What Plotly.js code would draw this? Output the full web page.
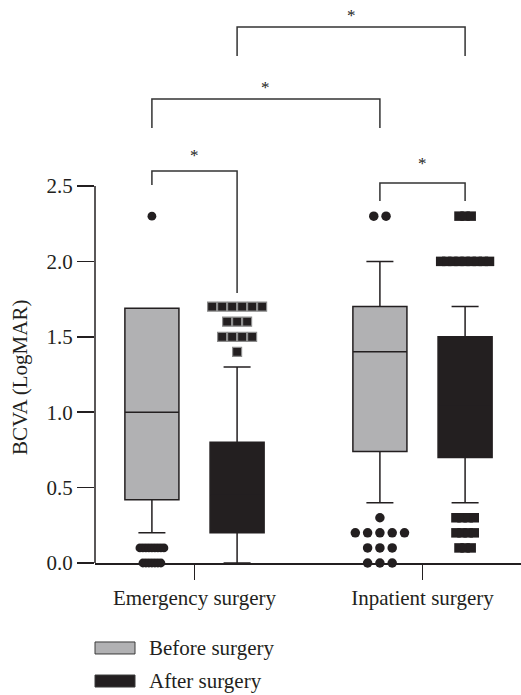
<!DOCTYPE html>
<html><head><meta charset="utf-8">
<script src="https://cdn.plot.ly/plotly-3.0.1.min.js"></script>
<style>html,body{margin:0;padding:0;background:#fff}#chart{width:521px;height:695px}</style>
</head><body><div id="chart"></div>
<script>
// ---------- data ----------
const categories = ['Emergency surgery', 'Inpatient surgery'];
const seriesNames = ['Before surgery', 'After surgery'];
const yAxisTitle = 'BCVA (LogMAR)';

const beforeQ1 = [0.42, 0.74];
const beforeMedian = [1.0, 1.4];
const beforeQ3 = [1.69, 1.70];
const beforeLowerFence = [0.2, 0.4];
const beforeUpperFence = [1.69, 2.0];

const afterQ1 = [0.2, 0.7];
const afterMedian = [0.45, 1.05];
const afterQ3 = [0.8, 1.5];
const afterLowerFence = [0.0, 0.4];
const afterUpperFence = [1.3, 1.7];

const emergencyBeforeOutliers = [2.3, 0.1, 0.1, 0.1, 0.1, 0.1, 0.1, 0.1, 0.1, 0.1, 0, 0, 0, 0, 0, 0, 0];
const emergencyAfterOutliers = [1.7, 1.7, 1.7, 1.7, 1.7, 1.7, 1.6, 1.6, 1.6, 1.5, 1.5, 1.5, 1.5, 1.4];
const inpatientBeforeOutliers = [2.3, 2.3, 0.3, 0.2, 0.2, 0.2, 0.2, 0.2, 0.1, 0.1, 0.1, 0, 0, 0];
const inpatientAfterOutliers = [2.3, 2.3, 2.3, 2.0, 2.0, 2.0, 2.0, 2.0, 2.0, 2.0, 2.0, 2.0, 0.3, 0.3, 0.3, 0.3, 0.2, 0.2, 0.2, 0.2, 0.1, 0.1, 0.1];

const yTickValues = [0, 0.5, 1.0, 1.5, 2.0, 2.5];
const yTickLabels = ['0.0', '0.5', '1.0', '1.5', '2.0', '2.5'];
const significanceLabel = '*';

// ---------- layout constants ----------
const W = 521, H = 695;
const M = {l: 95, r: 0, t: 5, b: 132};
const plotW = W - M.l - M.r, plotH = H - M.t - M.b;
const xRange = [-0.4364, -0.4364 + plotW / 228];
const yRange = [0, 3.70];
const pxPerX = plotW / (xRange[1] - xRange[0]);
const boxOffset = 0.1868;
const boxWidth = 0.237;
const GREY = '#b1b1b3', BLACK = '#231f20', LINE = '#231f20';
const FONT = 'Liberation Serif, Times New Roman, serif';
const FS = 21;

const posBefore = categories.map((c, i) => i - boxOffset);
const posAfter = categories.map((c, i) => i + boxOffset);

// spread equal values side by side (dot-plot style)
function spread(values, center, spacingPx) {
  const xs = [];
  const counts = {}, seen = {};
  values.forEach(v => counts[v] = (counts[v] || 0) + 1);
  values.forEach(v => {
    const k = seen[v] = (seen[v] === undefined ? 0 : seen[v] + 1);
    xs.push(center + (k - (counts[v] - 1) / 2) * spacingPx / pxPerX);
  });
  return xs;
}

const traces = [
  {type: 'box', name: seriesNames[0], x: posBefore, q1: beforeQ1, median: beforeMedian, q3: beforeQ3,
   lowerfence: beforeLowerFence, upperfence: beforeUpperFence, width: boxWidth, whiskerwidth: 0.5,
   fillcolor: GREY, line: {color: LINE, width: 1.5}, boxpoints: false, showlegend: false, hoverinfo: 'skip'},
  {type: 'box', name: seriesNames[1], x: posAfter, q1: afterQ1, median: afterMedian, q3: afterQ3,
   lowerfence: afterLowerFence, upperfence: afterUpperFence, width: boxWidth, whiskerwidth: 0.5,
   fillcolor: BLACK, line: {color: LINE, width: 1.5}, boxpoints: false, showlegend: false, hoverinfo: 'skip'},
  {type: 'scatter', mode: 'markers', x: spread(emergencyBeforeOutliers, posBefore[0], 3), y: emergencyBeforeOutliers,
   marker: {symbol: 'circle', size: 8.8, color: BLACK}, cliponaxis: false, showlegend: false, hoverinfo: 'skip'},
  {type: 'scatter', mode: 'markers', x: spread(emergencyAfterOutliers, posAfter[0], 10), y: emergencyAfterOutliers,
   marker: {symbol: 'square', size: 9, color: BLACK, line: {color: '#8c8c8c', width: 1.2}}, cliponaxis: false, showlegend: false, hoverinfo: 'skip'},
  {type: 'scatter', mode: 'markers', x: spread(inpatientBeforeOutliers, posBefore[1], 12.3), y: inpatientBeforeOutliers,
   marker: {symbol: 'circle', size: 9.5, color: BLACK}, cliponaxis: false, showlegend: false, hoverinfo: 'skip'},
  {type: 'scatter', mode: 'markers', x: spread(inpatientAfterOutliers, posAfter[1], 6.1), y: inpatientAfterOutliers,
   marker: {symbol: 'square', size: 9.5, color: BLACK}, cliponaxis: false, showlegend: false, hoverinfo: 'skip'}
];

// significance brackets: [x-left, x-right, bar y, left leg end, right leg end, star y]
const brackets = [
  [posBefore[0], posAfter[0], 2.60, 2.507, 1.79, 2.72],
  [posBefore[0], posBefore[1], 3.077, 2.885, 2.885, 3.17],
  [posAfter[0], posAfter[1], 3.554, 3.362, 3.362, 3.647],
  [posBefore[1], posAfter[1], 2.52, 2.40, 2.40, 2.666]
];

const shapes = [
  {type: 'line', xref: 'paper', yref: 'y', x0: 0, x1: 0, y0: 0, y1: 2.5, line: {color: LINE, width: 1.5}}
];
const annotations = [];
brackets.forEach(b => {
  shapes.push({type: 'path', xref: 'x', yref: 'y',
    path: `M${b[0]},${b[3]} L${b[0]},${b[2]} L${b[1]},${b[2]} L${b[1]},${b[4]}`,
    line: {color: '#333333', width: 1.5}});
  annotations.push({x: (b[0] + b[1]) / 2, y: b[5], xref: 'x', yref: 'y', text: significanceLabel,
    showarrow: false, yshift: -3, font: {family: FONT, size: 17, color: '#222222'}});
});

// y-axis title as rotated text
annotations.push({xref: 'paper', yref: 'paper', x: (20 - M.l) / plotW, y: (H - M.b - 378) / plotH,
  xanchor: 'center', yanchor: 'middle', textangle: -90, text: yAxisTitle, showarrow: false,
  font: {family: FONT, size: FS, color: BLACK}});

// legend drawn with shapes + text
const legendFills = [GREY, BLACK];
seriesNames.forEach((name, i) => {
  const yc = -0.1523 - i * 0.0592;
  shapes.push({type: 'rect', xref: 'paper', yref: 'paper', x0: 0, x1: 40 / plotW,
    y0: yc - 6 / plotH, y1: yc + 6 / plotH, fillcolor: legendFills[i], line: {color: '#3a3a3a', width: 1}});
  annotations.push({xref: 'paper', yref: 'paper', x: 52 / plotW, y: yc, xanchor: 'left', yanchor: 'middle',
    text: name, showarrow: false, font: {family: FONT, size: FS, color: BLACK}});
});

const layout = {
  width: W, height: H, margin: M, paper_bgcolor: '#fff', plot_bgcolor: '#fff',
  showlegend: false,
  xaxis: {range: xRange, tickmode: 'array', tickvals: categories.map((c, i) => i), ticktext: categories,
    ticks: 'outside', ticklen: 15, tickwidth: 1.5, tickcolor: LINE, showline: true, linecolor: LINE, linewidth: 1.5,
    showgrid: false, zeroline: false, fixedrange: true, tickfont: {family: FONT, size: FS, color: BLACK}},
  yaxis: {range: yRange, tickmode: 'array', tickvals: yTickValues, ticktext: yTickLabels,
    ticks: 'outside', ticklen: 17, tickwidth: 1.5, tickcolor: LINE, showline: false, showgrid: false, zeroline: false,
    fixedrange: true, tickfont: {family: FONT, size: FS, color: BLACK}},
  shapes: shapes, annotations: annotations
};

Plotly.newPlot('chart', traces, layout, {displayModeBar: false, staticPlot: true});
</script></body></html>
